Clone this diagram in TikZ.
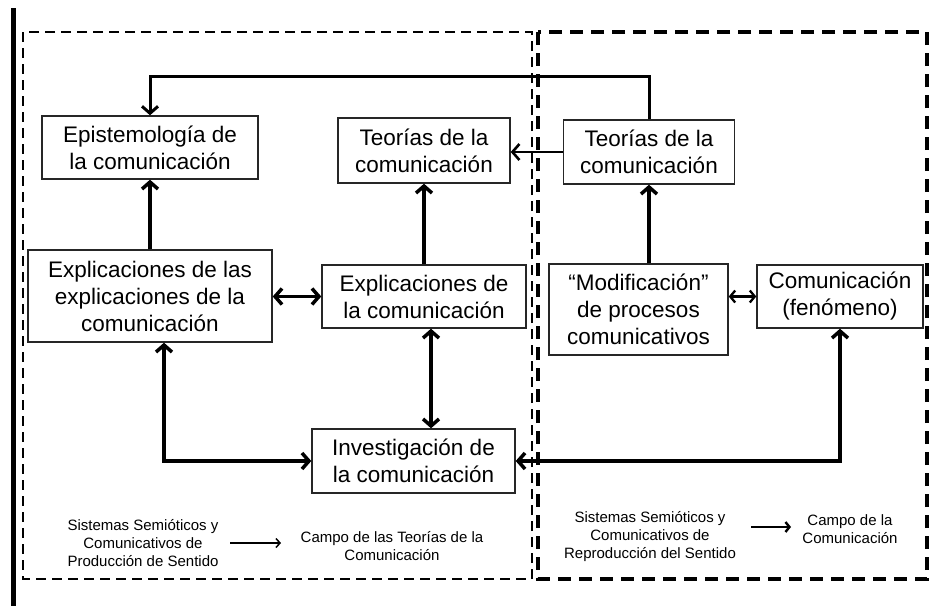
\documentclass[tikz,border=0pt]{standalone}
\usepackage{fontspec}
\setmainfont{Liberation Sans}
\usetikzlibrary{arrows.meta}
\newcommand\bxfont{\fontsize{22.5}{27}\selectfont}
\newcommand\smfont{\fontsize{15}{18}\selectfont}
\tikzset{
  box/.style={draw=black!85, line width=1.4pt, align=center, inner sep=0pt, font=\bxfont},
  conn/.style={line width=3.5pt, >={Straight Barb[length=7pt,width=16pt]}},
  thinconn/.style={line width=2.3pt, >={Straight Barb[length=5pt,width=12pt]}},
  dashL/.style={line width=2.4pt, dash pattern=on 10pt off 6pt},
  dashR/.style={line width=3.4pt, dash pattern=on 13pt off 8pt},
  lbl/.style={align=center, font=\smfont, inner sep=0pt},
}
\begin{document}
\begin{tikzpicture}[x=1pt,y=-1pt]
\useasboundingbox (0,0) rectangle (929,606);
\fill[white] (0,0) rectangle (929,606);
% left black bar
\draw[line width=5pt] (13,8) -- (13,606);
% dashed regions
\draw[dashL] (23,32) rectangle (532,579);
\draw[dashR] (538,32) rectangle (927,579);

% boxes
\node[box, minimum width=216pt, minimum height=63pt] (epi) at (150,147.5) {Epistemología de\\la comunicación};
\node[box, minimum width=172pt, minimum height=65pt] (teo1) at (424,150.5) {Teorías de la\\comunicación};
\node[box, minimum width=171pt, minimum height=64pt] (teo2) at (649,152) {Teorías de la\\comunicación};
\node[box, minimum width=244pt, minimum height=92pt] (expl2) at (150,296) {Explicaciones de las\\explicaciones de la\\comunicación};
\node[box, minimum width=204pt, minimum height=63pt] (expl1) at (424,296.5) {Explicaciones de\\la comunicación};
\node[box, minimum width=179pt, minimum height=91pt] (mod) at (638.5,309.5) {“Modificación”\\de procesos\\comunicativos};
\node[box, minimum width=166pt, minimum height=63pt] (com) at (840,296.5) {Comunicación\\(fenómeno)};
\node[box, minimum width=203pt, minimum height=64pt] (inv) at (413.5,461) {Investigación de\\la comunicación};

% helper coordinates
\coordinate (topy) at (0,76);
\coordinate (xa) at (431,0);
\coordinate (xb) at (164,0);

% connectors
\draw[conn,line width=3pt,->] (teo2.north) -- (teo2.north |- topy) -| (epi.north);
\draw[conn,line width=2.6pt,->] (teo2.west) -- (teo1.east |- teo2.west);
\draw[conn,->] (expl2.north) -- (epi.south);
\draw[conn,->] (expl1.north) -- (teo1.south);
\draw[conn,->] (mod.north -| teo2.south) -- (teo2.south);
\draw[conn,<->] (expl2.east |- expl1.west) -- (expl1.west);
\draw[thinconn,<->] (mod.east |- com.west) -- (com.west);
\draw[conn,<->] (expl1.south -| xa) -- (inv.north -| xa);
\draw[conn,<->] (expl2.south -| xb) |- (inv.west);
\draw[conn,<->] (com.south) |- (inv.east);

% bottom legends
\node[lbl] (s1) at (143,543.5) {Sistemas Semióticos y\\Comunicativos de\\Producción de Sentido};
\node[lbl] (c1) at (392,546) {Campo de las Teorías de la\\Comunicación};
\node[lbl] (s2) at (650,537) {Sistemas Semióticos y\\Comunicativos de\\Reproducción del Sentido};
\node[lbl] (c2) at (850,529) {Campo de la\\Comunicación};
\coordinate (a1s) at (230,543);
\coordinate (a1e) at (281,543);
\coordinate (a2s) at (751,527);
\coordinate (a2e) at (791,527);
\draw[line width=1.5pt, -{Straight Barb[length=4pt,width=9pt]}] (a1s) -- (a1e);
\draw[line width=2.4pt, -{Straight Barb[length=4pt,width=10pt]}] (a2s) -- (a2e);
\end{tikzpicture}
\end{document}
